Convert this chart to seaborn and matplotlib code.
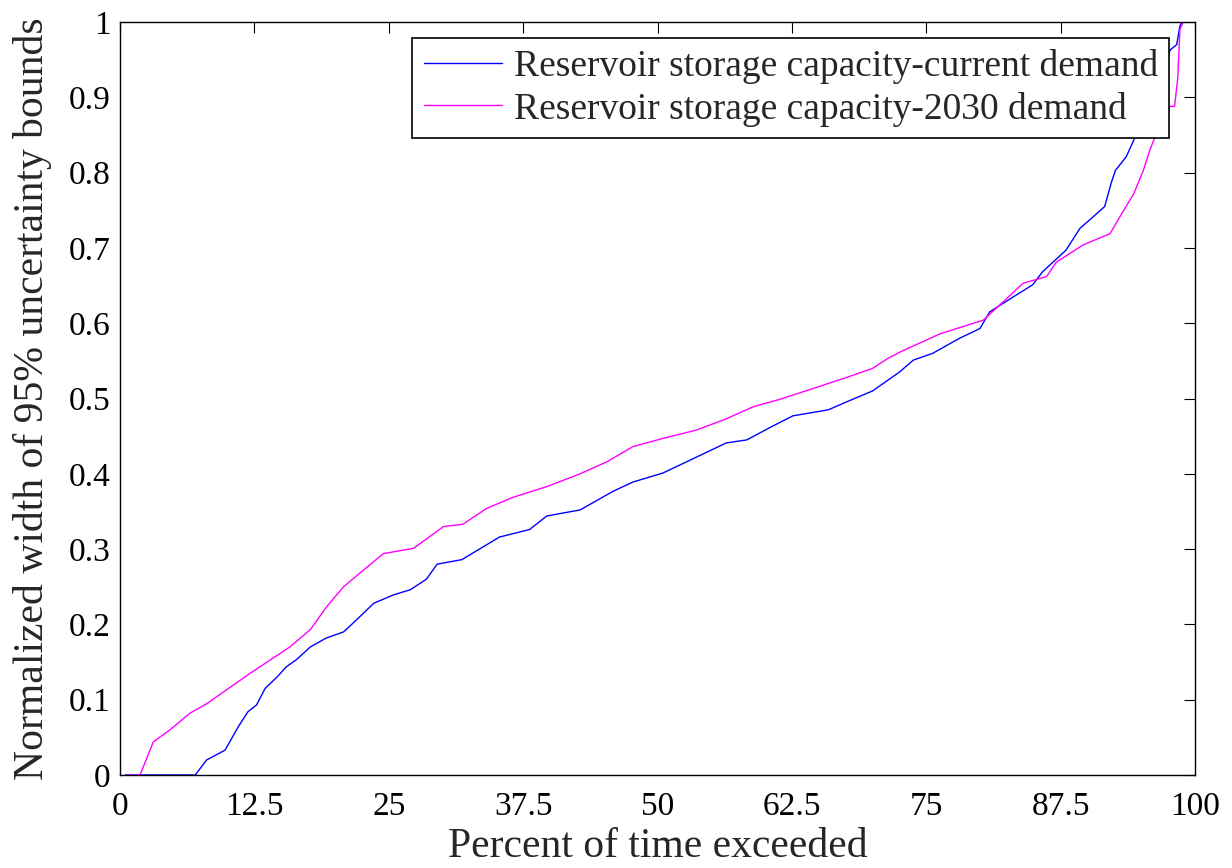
import numpy as np
import pandas as pd
import matplotlib
matplotlib.use("Agg")
import matplotlib.pyplot as plt
import seaborn as sns

# ---- data ----
series_names = ["Reservoir storage capacity-current demand",
                "Reservoir storage capacity-2030 demand"]

current_x = [0.5, 7.0, 8.06, 9.77, 11.0, 11.9, 12.7, 13.5, 14.6, 15.5, 16.4, 17.7, 19.2, 20.8,
             22.0, 23.6, 25.4, 27.0, 28.5, 29.5, 31.8, 35.3, 38.1, 39.7, 42.8, 45.9, 47.7, 50.5,
             53.6, 56.4, 58.3, 60.8, 62.6, 65.9, 67.5, 70.0, 72.5, 73.8, 75.6, 78.1, 80.0, 80.9,
             83.1, 84.9, 85.8, 88.0, 89.3, 90.5, 91.6, 92.2, 92.6, 93.6, 94.3, 96.0, 97.7, 98.3,
             98.6, 98.8]
current_y = [0.0, 0.0, 0.02, 0.033, 0.064, 0.084, 0.093, 0.115, 0.13, 0.144, 0.153, 0.170, 0.182,
             0.19, 0.206, 0.228, 0.239, 0.246, 0.26, 0.28, 0.286, 0.316, 0.326, 0.344, 0.352,
             0.377, 0.389, 0.401, 0.422, 0.441, 0.445, 0.464, 0.477, 0.485, 0.495, 0.51, 0.535,
             0.551, 0.56, 0.58, 0.593, 0.615, 0.635, 0.651, 0.668, 0.697, 0.726, 0.741, 0.755,
             0.786, 0.803, 0.821, 0.843, 0.90, 0.963, 0.97, 0.995, 1.0]

future_x = [0.5, 1.86, 3.1, 4.65, 6.5, 8.1, 9.9, 12.1, 14.0, 15.8, 17.7, 19.2, 20.8, 22.3, 24.5,
            27.3, 30.1, 31.9, 34.1, 36.6, 39.7, 42.8, 45.3, 47.7, 50.5, 53.6, 56.4, 58.9, 61.4,
            64.2, 65.9, 68.0, 70.0, 71.4, 72.6, 76.3, 80.3, 82.2, 84.0, 86.2, 87.1, 89.6, 92.1,
            93.0, 94.3, 95.2, 95.8, 96.3, 97.0, 97.7, 98.1, 98.4, 98.6, 98.9]
future_y = [0.0, 0.0, 0.044, 0.06, 0.082, 0.095, 0.113, 0.135, 0.153, 0.170, 0.193, 0.223, 0.25,
            0.268, 0.294, 0.301, 0.33, 0.333, 0.354, 0.369, 0.383, 0.40, 0.416, 0.436, 0.447,
            0.458, 0.473, 0.489, 0.499, 0.512, 0.52, 0.53, 0.54, 0.553, 0.562, 0.586, 0.604,
            0.629, 0.653, 0.662, 0.681, 0.704, 0.719, 0.741, 0.772, 0.803, 0.83, 0.848, 0.87,
            0.888, 0.888, 0.926, 0.99, 1.0]

x_ticks = [0, 12.5, 25, 37.5, 50, 62.5, 75, 87.5, 100]
x_tick_labels = ["0", "12.5", "25", "37.5", "50", "62.5", "75", "87.5", "100"]
y_ticks = [0, 0.1, 0.2, 0.3, 0.4, 0.5, 0.6, 0.7, 0.8, 0.9, 1.0]
y_tick_labels = ["0", "0.1", "0.2", "0.3", "0.4", "0.5", "0.6", "0.7", "0.8", "0.9", "1"]

df = pd.concat([
    pd.DataFrame({"x": current_x, "y": current_y, "series": series_names[0]}),
    pd.DataFrame({"x": future_x, "y": future_y, "series": series_names[1]}),
], ignore_index=True)

sns.set_style("white")
plt.rcParams["font.family"] = ["Liberation Serif", "DejaVu Serif"]

fig = plt.figure(figsize=(12.32, 8.68), dpi=100)
ax = fig.add_axes([120/1232, 1 - 775/868, (1195-120)/1232, (775-22)/868])

sns.lineplot(data=df, x="x", y="y", hue="series", hue_order=series_names,
             palette=["#0000FF", "#FF00FF"], estimator=None, sort=False,
             linewidth=1.0, ax=ax)

ax.set_xlim(0, 100)
ax.set_ylim(0, 1)
ax.set_xticks(x_ticks)
ax.set_xticklabels(x_tick_labels)
ax.set_yticks(y_ticks)
ax.set_yticklabels(y_tick_labels)
ax.tick_params(direction="in", length=8, width=0.8, top=True, right=True,
               labelsize=24, colors="black")
ax.tick_params(axis="x", pad=12)
ax.tick_params(axis="y", pad=7)
for s in ax.spines.values():
    s.set_visible(True)
    s.set_color("black")
    s.set_linewidth(1.0)

ax.set_xlabel("Percent of time exceeded", fontsize=30, labelpad=4)
ax.set_ylabel("Normalized width of 95% uncertainty bounds", fontsize=30, labelpad=12)

leg = ax.legend(loc="upper right", bbox_to_anchor=(0.976, 0.979), borderaxespad=0,
                fontsize=27, frameon=True, fancybox=False, framealpha=1,
                edgecolor="black", handlelength=2.1, handletextpad=0.3,
                borderpad=0.3, labelspacing=0.2, title=None)
leg.get_frame().set_linewidth(1.2)

fig.savefig("out.png", dpi=100)
